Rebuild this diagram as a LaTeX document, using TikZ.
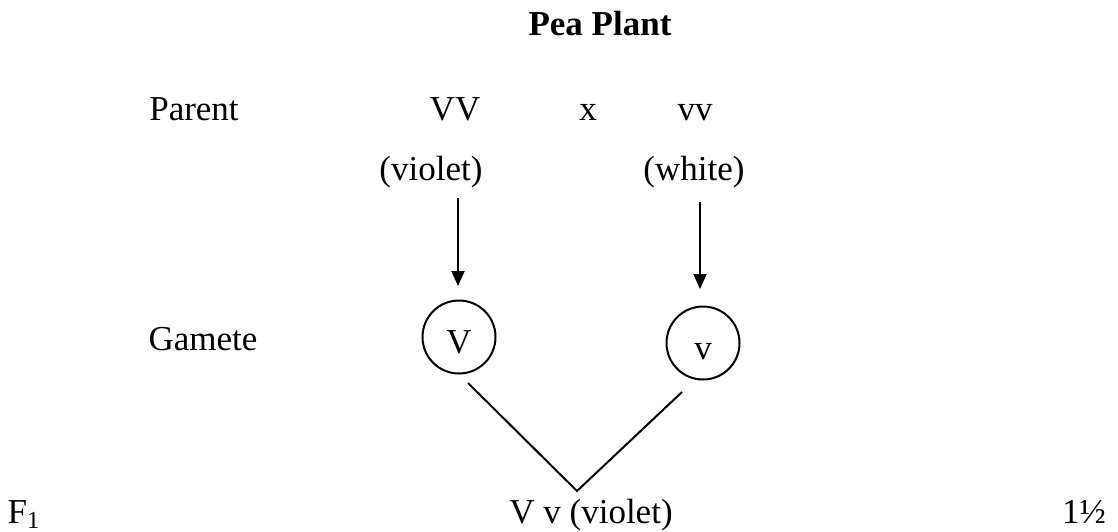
\documentclass[tikz,border=0pt]{standalone}
\usepackage{fontspec}
\setmainfont{Liberation Serif}
\usetikzlibrary{arrows.meta}
\begin{document}
\begin{tikzpicture}[x=0.5pt,y=-0.5pt,
  lbl/.style={anchor=base,inner sep=0pt,font=\fontsize{17.5}{21}\selectfont},
  gam/.style={circle,draw,line width=1pt,minimum size=36.5pt,inner sep=0pt,text height=16pt,text depth=0pt,font=\fontsize{17.5}{21}\selectfont},
  arr/.style={line width=1pt,-{Triangle[length=7.5pt,width=6.5pt]}},
  con/.style={line width=1pt}]
\useasboundingbox (0,0) rectangle (1118,531);
\node[lbl,font=\fontsize{17.5}{21}\selectfont\bfseries] (title) at (600,35) {Pea Plant};
\node[lbl] (parent) at (194,120) {Parent};
\node[lbl] (VV) at (455,120) {VV};
\node[lbl] (x) at (588,120) {x};
\node[lbl] (vv) at (695,120) {vv};
\node[lbl] (violet) at (431,180) {(violet)};
\node[lbl] (white) at (694,180) {(white)};
\coordinate (a1) at (458,198);
\coordinate (a1e) at (458,286);
\coordinate (a2) at (700,202);
\coordinate (a2e) at (700,289);
\draw[arr] (a1) -- (a1e);
\draw[arr] (a2) -- (a2e);
\node[lbl] (gamete) at (203,350) {Gamete};
\node[gam] (gV) at (459,337) {V};
\node[gam] (gv) at (703,343) {v};
\coordinate (c1) at (468,383);
\coordinate (c2) at (682,392);
\coordinate (m) at (577,491);
\draw[con] (c1) -- (m) -- (c2);
\node[lbl] (F1) at (24,523) {F\textsubscript{1}};
\node[lbl] (off) at (591,523) {V v (violet)};
\node[lbl] (mark) at (1084,523) {1½};
\end{tikzpicture}
\end{document}
